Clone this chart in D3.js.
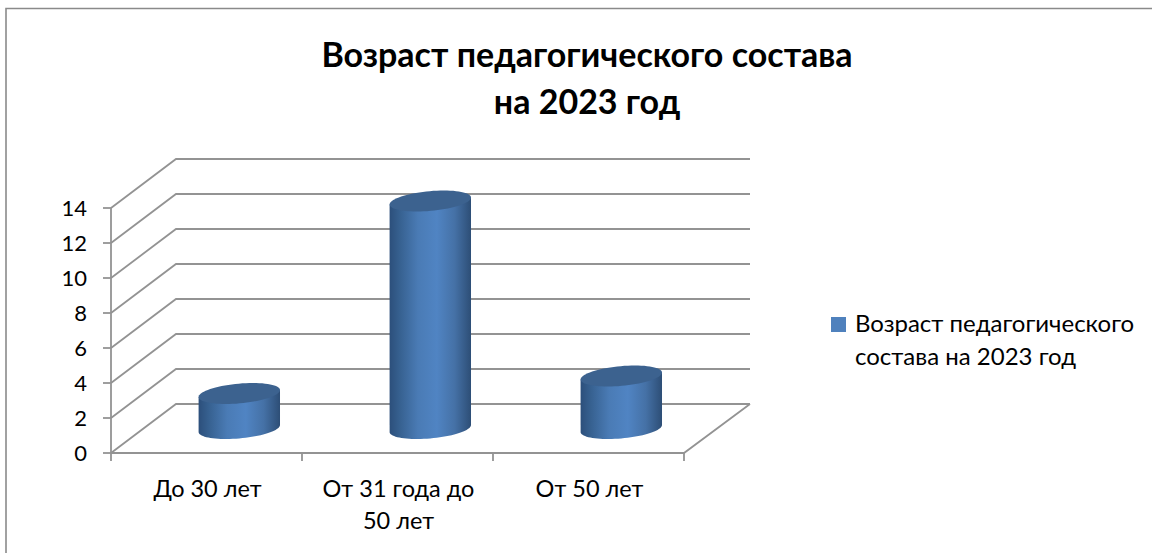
<!DOCTYPE html>
<html><head><meta charset="utf-8">
<script src="https://cdnjs.cloudflare.com/ajax/libs/d3/7.8.5/d3.min.js"></script>
<style>html,body{margin:0;padding:0;background:#fff}svg{display:block}text{font-family:Lato,"Open Sans",sans-serif;fill:#000}</style>
</head><body><svg id="c" width="1152" height="553"></svg>
<script>
const categories = [["До 30 лет"], ["От 31 года до", "50 лет"], ["От 50 лет"]];
const values = [2, 13, 3];
const yTicks = [0, 2, 4, 6, 8, 10, 12, 14];
const titleLines = ["Возраст педагогического состава", "на 2023 год"];
const legendLines = ["Возраст педагогического", "состава на 2023 год"];

const svg = d3.select("#c");
const grey = "#939393";
const W = 1152, H = 553;
const depthX = 65, depthY = 49;
const x = d3.scaleBand().domain(d3.range(categories.length)).range([111, 684]);
const y = d3.scaleLinear().domain([0, 14]).range([453, 208]);

const defs = svg.append("defs");
const g = defs.append("linearGradient").attr("id", "body");
[[0, "#2c4f7b"], [0.12, "#36608f"], [0.35, "#4a7bb5"], [0.58, "#5084c3"], [0.8, "#4571a6"], [1, "#2d4e76"]]
  .forEach(([o, c]) => g.append("stop").attr("offset", o).attr("stop-color", c));

svg.append("path").attr("d", `M6 ${H}V8.5H${W}`).attr("fill", "none").attr("stroke", "#8a8a8a").attr("stroke-width", 1.6);

const grid = svg.append("g").attr("fill", "none").attr("stroke", grey).attr("stroke-width", 1.8);
yTicks.forEach(t => {
  const p = d3.path();
  p.moveTo(x.range()[0], y(t));
  p.lineTo(x.range()[0] + depthX, y(t) - depthY);
  p.lineTo(x.range()[1] + depthX + 1, y(t) - depthY);
  grid.append("path").attr("d", p.toString());
});
const axisLine = d3.line();
grid.append("path").attr("d", axisLine([[x.range()[0], y(14)], [x.range()[0], y(0)], [x.range()[1], y(0)], [x.range()[1] + depthX + 1, y(0) - depthY]]));
yTicks.forEach(t => grid.append("path").attr("d", axisLine([[103, y(t)], [x.range()[0], y(t)]])));
d3.range(categories.length + 1).forEach(i => {
  const px = x.range()[0] + i * x.step();
  grid.append("path").attr("d", axisLine([[px, y(0)], [px, y(0) + 8]]));
});

svg.append("g").selectAll("text").data(yTicks).join("text")
  .attr("x", 87).attr("y", d => y(d) + 8).attr("text-anchor", "end")
  .attr("font-size", 22).text(d => d);

const a = 38.4, b = 13.5, c = 10.5;
const pt = (cx, cy, t) => [cx + a * Math.cos(t) + b * Math.sin(t), cy - c * Math.sin(t)];
const t0 = Math.atan2(b, a);
const arcLine = d3.line();
const bars = svg.append("g");
values.forEach((v, i) => {
  const cx = x(i) + x.bandwidth() / 2 + depthX / 2 + 0.3;
  const cyB = y(0) - depthY / 2;
  const cyT = y(v) - depthY / 2;
  const rightTop = pt(cx, cyT, t0), leftTop = pt(cx, cyT, t0 + Math.PI);
  const lower = d3.range(0, 41).map(k => pt(cx, cyB, t0 + Math.PI + k / 40 * Math.PI));
  const pts = [leftTop, ...lower, rightTop];
  const gid = "g" + i;
  defs.append("linearGradient").attr("id", gid).attr("href", "#body").attr("gradientUnits", "userSpaceOnUse")
    .attr("x1", leftTop[0]).attr("x2", rightTop[0]).attr("y1", 0).attr("y2", 0);
  bars.append("path").attr("d", arcLine(pts) + "Z").attr("fill", `url(#${gid})`);
  const top = d3.range(0, 73).map(k => pt(cx, cyT, k / 72 * 2 * Math.PI));
  bars.append("path").attr("d", arcLine(top) + "Z").attr("fill", "#3c628f");
});

const catG = svg.append("g");
categories.forEach((lines, i) => {
  lines.forEach((l, j) => catG.append("text")
    .attr("x", x(i) + x.bandwidth() / 2 + 1).attr("y", 497 + j * 32)
    .attr("text-anchor", "middle").attr("font-size", 23.5).text(l));
});

svg.append("g").selectAll("text").data(titleLines).join("text")
  .attr("x", 587).attr("y", (d, i) => 66.5 + i * 47.5)
  .attr("text-anchor", "middle").attr("font-size", 34).attr("font-weight", 700).text(d => d);

svg.append("rect").attr("x", 831).attr("y", 317).attr("width", 15).attr("height", 15).attr("fill", "#4f81bd");
svg.append("g").selectAll("text").data(legendLines).join("text")
  .attr("x", 855).attr("y", (d, i) => 332 + i * 33)
  .attr("font-size", 24).text(d => d);
</script></body></html>
